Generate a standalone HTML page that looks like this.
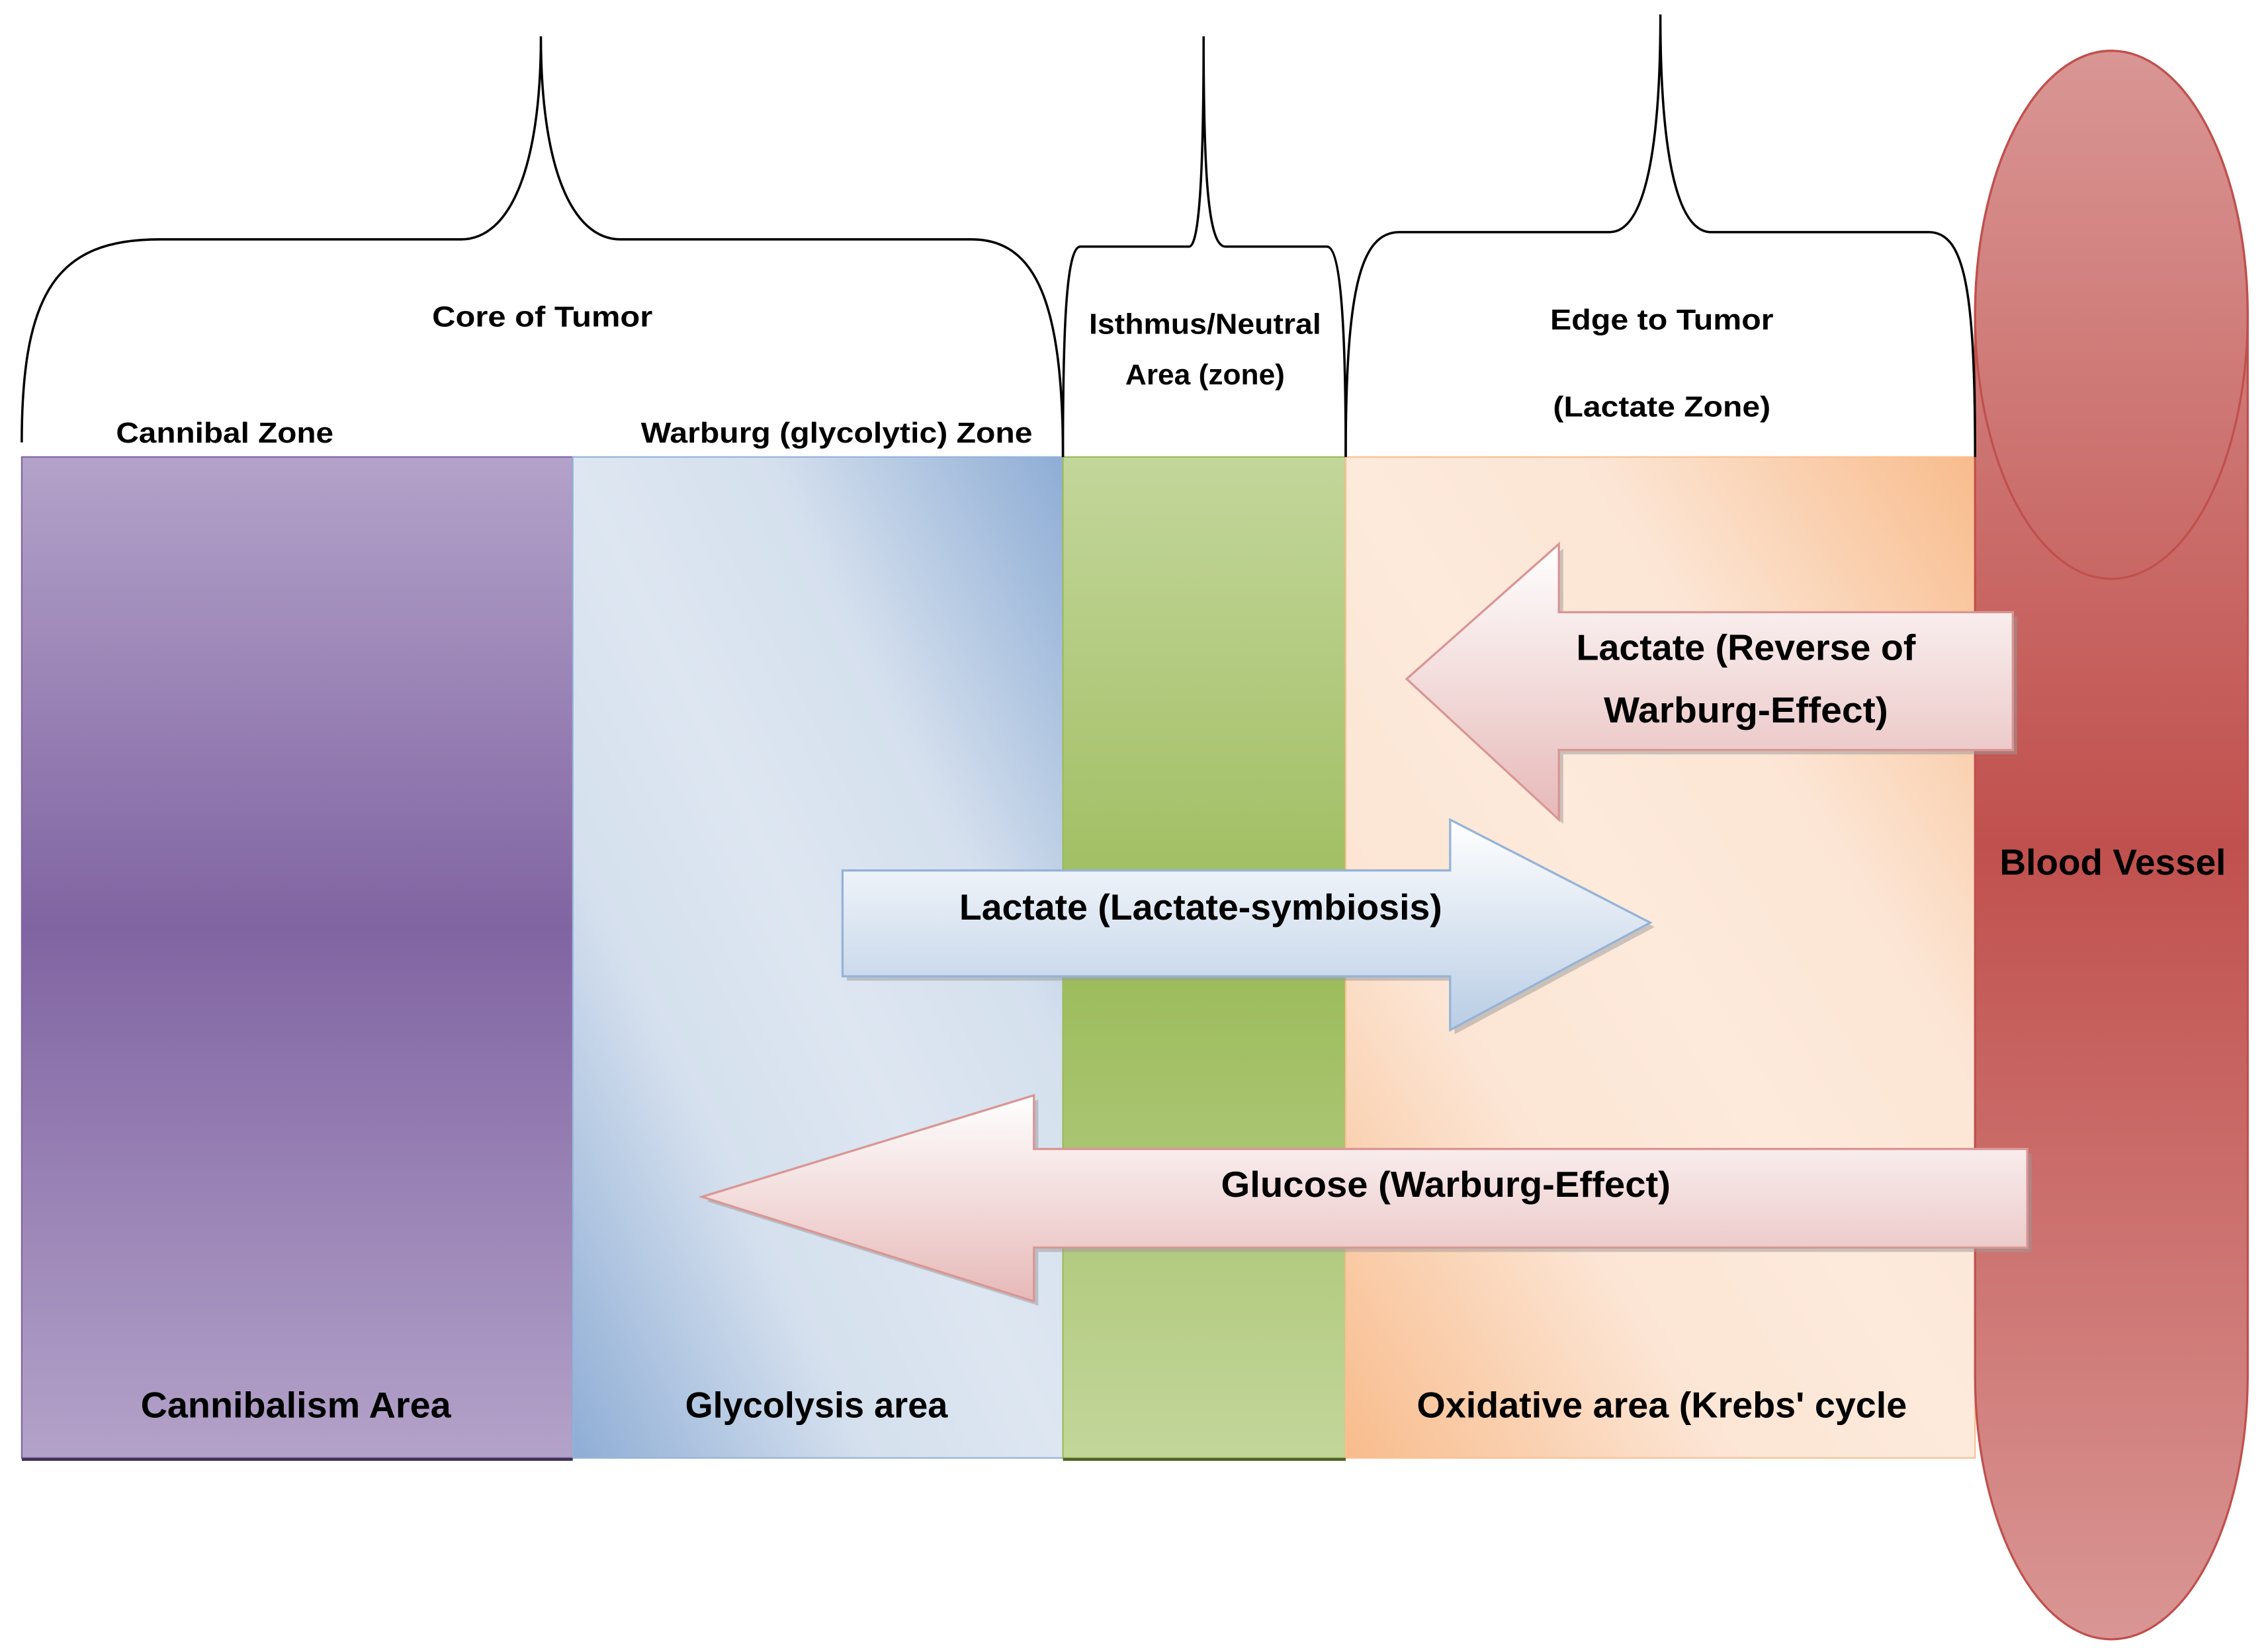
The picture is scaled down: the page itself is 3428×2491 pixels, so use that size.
<!DOCTYPE html>
<html><head><meta charset="utf-8"><style>html,body{margin:0;padding:0;background:#fff}svg{display:block}</style></head>
<body>
<svg width="3428" height="2491" viewBox="0 0 1564 1136" preserveAspectRatio="none" xmlns="http://www.w3.org/2000/svg" font-family="Liberation Sans, sans-serif" font-weight="bold">
<defs>
<linearGradient id="pur" x1="0" y1="0" x2="0" y2="1">
<stop offset="0" stop-color="#b3a2c9"/><stop offset="0.47" stop-color="#8064a2"/><stop offset="1" stop-color="#b3a2c9"/></linearGradient>
<linearGradient id="blu" x1="0" y1="1" x2="1" y2="0">
<stop offset="0" stop-color="#8eadd5"/><stop offset="0.3" stop-color="#d5e0ee"/><stop offset="0.5" stop-color="#dde6f1"/><stop offset="0.7" stop-color="#d5e0ee"/><stop offset="1" stop-color="#8eadd5"/></linearGradient>
<linearGradient id="grn" x1="0" y1="0" x2="0" y2="1">
<stop offset="0" stop-color="#c3d69b"/><stop offset="0.5" stop-color="#9bbb59"/><stop offset="1" stop-color="#c3d69b"/></linearGradient>
<linearGradient id="org" x1="0" y1="1" x2="1" y2="0">
<stop offset="0" stop-color="#f8bc8c"/><stop offset="0.3" stop-color="#fce5d4"/><stop offset="0.5" stop-color="#fdeadb"/><stop offset="0.7" stop-color="#fce5d4"/><stop offset="1" stop-color="#f8bc8c"/></linearGradient>
<linearGradient id="red" x1="0" y1="0" x2="0" y2="1">
<stop offset="0" stop-color="#d99694"/><stop offset="0.5" stop-color="#c0504d"/><stop offset="1" stop-color="#d99694"/></linearGradient>
<linearGradient id="pk" x1="0" y1="0" x2="0" y2="1">
<stop offset="0" stop-color="#ffffff"/><stop offset="1" stop-color="#e6b9b8"/></linearGradient>
<linearGradient id="bl" x1="0" y1="0" x2="0" y2="1">
<stop offset="0" stop-color="#ffffff"/><stop offset="1" stop-color="#b9cde5"/></linearGradient>
</defs>

<rect x="15" y="315" width="380" height="690" fill="url(#pur)" stroke="#8064a2" stroke-width="1"/>
<rect x="395" y="315" width="338" height="690" fill="url(#blu)" stroke="#95b3d7" stroke-width="1"/>
<rect x="733" y="315" width="195" height="690" fill="url(#grn)" stroke="#9bbb59" stroke-width="1"/>
<rect x="928" y="315" width="434" height="690" fill="url(#org)" stroke="#fac090" stroke-width="1"/>
<line x1="15" y1="1006" x2="395" y2="1006" stroke="#3f3151" stroke-width="2"/>
<line x1="733" y1="1006" x2="928" y2="1006" stroke="#4f6228" stroke-width="2"/>

<rect x="1362" y="35" width="188" height="1095" rx="94" ry="182" fill="url(#red)" stroke="#c0504d" stroke-width="1.5"/>
<ellipse cx="1456" cy="217" rx="94" ry="182" fill="none" stroke="#c0504d" stroke-width="1.5"/>

<g fill="none" stroke="#000" stroke-width="1.6">
<path d="M15,305 C15,200 40,165 110,165 L318,165 C352,165 373,115 373,25 C373,115 394,165 428,165 L670,165 C715,165 733,210 733,315"/>
<path d="M733,315 C733,230 735,170 745,170 L820,170 C827,170 830,120 830,25 C830,120 833,170 845,170 L915,170 C925,170 928,230 928,315"/>
<path d="M928,315 C928,200 938,160 965,160 L1110,160 C1135,160 1145,100 1145,10 C1145,100 1155,160 1180,160 L1330,160 C1355,160 1362,200 1362,315"/>
</g>

<g transform="translate(3,3)" fill="#999" opacity="0.5">
<polygon points="970,468 1075,375 1075,422 1388,422 1388,517 1075,517 1075,565"/>
<polygon points="581,600 1000,600 1000,565 1138,636 1000,710 1000,673 581,673"/>
<polygon points="484,825 713,755 713,792 1398,792 1398,860 713,860 713,897"/>
</g>
<polygon points="970,468 1075,375 1075,422 1388,422 1388,517 1075,517 1075,565" fill="url(#pk)" stroke="#d99694" stroke-width="1.5"/>
<polygon points="581,600 1000,600 1000,565 1138,636 1000,710 1000,673 581,673" fill="url(#bl)" stroke="#95b3d7" stroke-width="1.5"/>
<polygon points="484,825 713,755 713,792 1398,792 1398,860 713,860 713,897" fill="url(#pk)" stroke="#d99694" stroke-width="1.5"/>

<g fill="#000" text-anchor="middle" font-size="20">
<text x="374" y="225" textLength="152" lengthAdjust="spacingAndGlyphs">Core of Tumor</text>
<text x="155" y="305" textLength="150" lengthAdjust="spacingAndGlyphs">Cannibal Zone</text>
<text x="577" y="305" textLength="270" lengthAdjust="spacingAndGlyphs">Warburg (glycolytic) Zone</text>
<text x="831" y="230" textLength="160" lengthAdjust="spacingAndGlyphs">Isthmus/Neutral</text>
<text x="831" y="265" textLength="110" lengthAdjust="spacingAndGlyphs">Area (zone)</text>
<text x="1146" y="227" textLength="154" lengthAdjust="spacingAndGlyphs">Edge to Tumor</text>
<text x="1146" y="287" textLength="150" lengthAdjust="spacingAndGlyphs">(Lactate Zone)</text>
</g>
<g fill="#000" text-anchor="middle" font-size="25">
<text x="1204" y="455" textLength="234" lengthAdjust="spacingAndGlyphs">Lactate (Reverse of</text>
<text x="1204" y="498" textLength="196" lengthAdjust="spacingAndGlyphs">Warburg-Effect)</text>
<text x="828" y="634" textLength="333" lengthAdjust="spacingAndGlyphs">Lactate (Lactate-symbiosis)</text>
<text x="997" y="825" textLength="310" lengthAdjust="spacingAndGlyphs">Glucose (Warburg-Effect)</text>
<text x="1457" y="603" textLength="156" lengthAdjust="spacingAndGlyphs">Blood Vessel</text>
<text x="204" y="977" textLength="214" lengthAdjust="spacingAndGlyphs">Cannibalism Area</text>
<text x="563" y="977" textLength="181" lengthAdjust="spacingAndGlyphs">Glycolysis area</text>
<text x="1146" y="977" textLength="338" lengthAdjust="spacingAndGlyphs">Oxidative area (Krebs' cycle</text>
</g>
</svg>
</body></html>
